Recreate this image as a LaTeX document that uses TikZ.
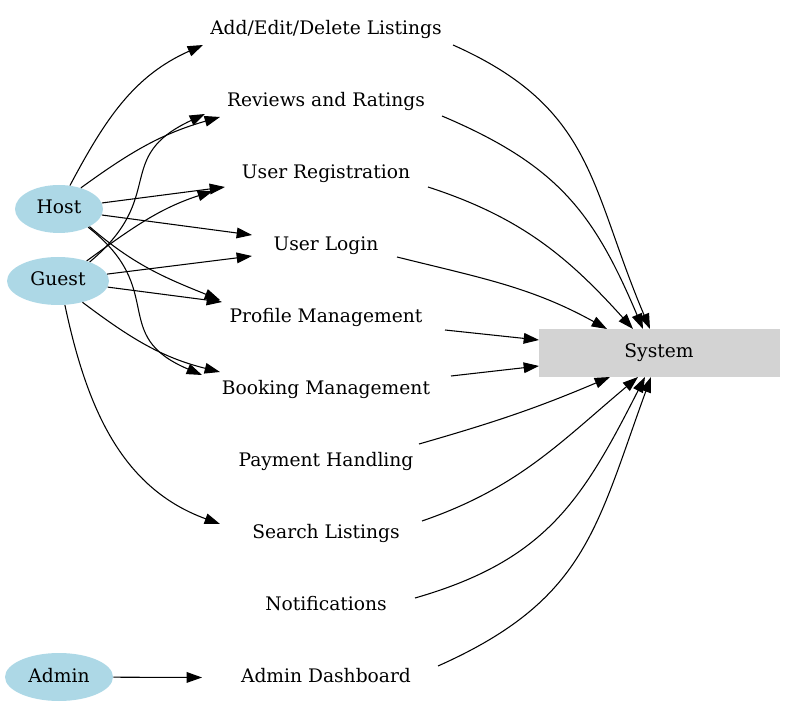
\documentclass[tikz,border=0pt]{standalone}
\usepackage{fontspec}
\setmainfont{DejaVu Serif}
\usetikzlibrary{shapes.geometric,arrows.meta,calc,positioning}
\definecolor{actorblue}{RGB}{173,216,230}
\definecolor{sysgrey}{RGB}{211,211,211}

\begin{document}
\begin{tikzpicture}[x=0.75pt,y=0.75pt]
    \tikzset{
        txt/.style = {font=\fontsize{14}{16}\selectfont, text height=10.5pt, text depth=3pt},
        actor/.style = {txt, ellipse, fill=actorblue, inner sep=0pt, minimum height=36pt},
        usecase/.style = {txt, inner sep=0pt},
        sysbox/.style = {txt, rectangle, fill=sysgrey, minimum width=180.75pt, minimum height=36pt},
        line/.style = {draw=black, line width=0.8pt, -{Triangle[length=11.5pt,width=8pt]}}
    }
    \useasboundingbox (0,0) rectangle (785,707);

    % actors
    \node[actor, minimum width=66pt](host) at (59,498){Host};
    \node[actor, minimum width=76.5pt](guest) at (58,426){Guest};
    \node[actor, minimum width=81pt](admin) at (59,30){Admin};

    % use cases
    \node[usecase](add) at (326,677.5){Add/Edit/Delete Listings};
    \node[usecase](rev) at (326,605.5){Reviews and Ratings};
    \node[usecase](ureg) at (326,533.5){User Registration};
    \node[usecase](ulog) at (326,461.5){User Login};
    \node[usecase](prof) at (326,389.5){Profile Management};
    \node[usecase](book) at (326,317.5){Booking Management};
    \node[usecase](pay) at (326,245.5){Payment Handling};
    \node[usecase](search) at (326,173.5){Search Listings};
    \node[usecase](notif) at (326,101.5){Notifications};
    \node[usecase](adash) at (326,29.5){Admin Dashboard};

    \node[sysbox](sys) at (659,354){System};

    % actors to use cases
    \path [line] (host.65) to[out=62,in=-156] ($(add)+(-123,-15.5)$);
    \path [line] (host.44) to[out=36,in=-164] ($(rev)+(-106,-15.5)$);
    \path [line] (guest.31) to[out=40,in=-155,looseness=1.4] ($(rev)+(-121,-12.5)$);
    \path [line] (host.8) -- ($(ureg)+(-101,-13.5)$);
    \path [line] (guest.35) to[out=36,in=-162] ($(ureg)+(-113,-17.5)$);
    \path [line] (host.-8) -- ($(ulog)+(-74,10.5)$);
    \path [line] (guest.8) -- ($(ulog)+(-74,-10.5)$);
    \path [line] (host.-30) to[out=-41,in=158] ($(prof)+(-106,17.5)$);
    \path [line] (guest.-7) -- ($(prof)+(-104,15.5)$);
    \path [line] (host.-32) to[out=-38,in=157,looseness=1.4] ($(book)+(-124,14.5)$);
    \path [line] (guest.-41) to[out=-37,in=166] ($(book)+(-106,17.5)$);
    \path [line] (guest.-74) to[out=-78,in=160] ($(search)+(-106,9.5)$);
    \path [line] (admin) -- ($(adash)+(-124,0)$);

    % use cases to system
    \path [line] ($(add)+(127,-15.5)$) to[out=-24,in=113,looseness=1.15] ($(sys)+(-9,24)$);
    \path [line] ($(rev)+(116,-14.5)$) to[out=-23,in=113,looseness=1.1] ($(sys)+(-16,24)$);
    \path [line] ($(ureg)+(102,-13.5)$) to[out=-18,in=132] ($(sys)+(-26,24)$);
    \path [line] ($(ulog)+(71,-11.5)$) to[out=-14,in=151] ($(sys)+(-52,24)$);
    \path [line] ($(prof)+(119,-12.5)$) -- ($(sys)+(-120,13)$);
    \path [line] ($(book)+(125,13.5)$) -- ($(sys)+(-120,-13)$);
    \path [line] ($(pay)+(93,17.5)$) to[out=16,in=-157] ($(sys)+(-49,-24)$);
    \path [line] ($(search)+(96,12.5)$) to[out=19,in=-140] ($(sys)+(-21,-24)$);
    \path [line] ($(notif)+(89,7.5)$) to[out=16,in=-117,looseness=1.1] ($(sys)+(-14,-24)$);
    \path [line] ($(adash)+(112,11.5)$) to[out=24,in=-110,looseness=1.15] ($(sys)+(-8,-24)$);

\end{tikzpicture}
\end{document}
